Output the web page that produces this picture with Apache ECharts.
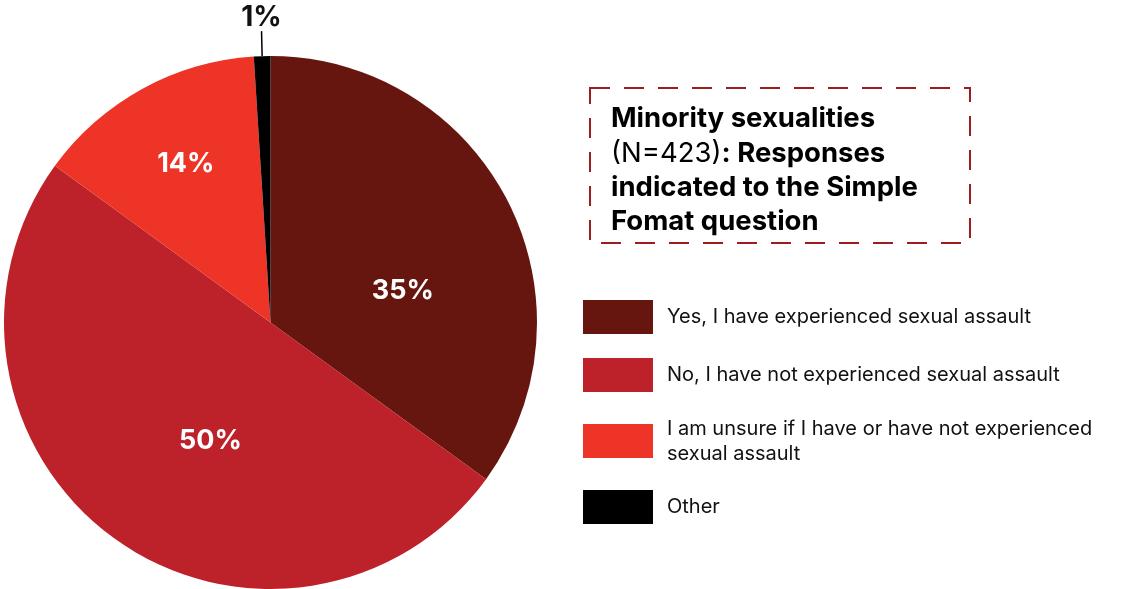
<!DOCTYPE html>
<html>
<head>
<meta charset="utf-8">
<script src="https://cdn.jsdelivr.net/npm/echarts@6/dist/echarts.min.js"></script>
<style>
html,body{margin:0;padding:0;background:#fff;}
#chart{width:1129px;height:589px;}
</style>
</head>
<body>
<div id="chart"></div>
<script>
var categories = [
  'Yes, I have experienced sexual assault',
  'No, I have not experienced sexual assault',
  'I am unsure if I have or have not experienced\nsexual assault',
  'Other'
];
var values = [35, 50, 14, 1];
var labels = ['35%', '50%', '14%', '1%'];
var colors = ['#66150f', '#bd2129', '#ee3327', '#000000'];
var labelOffsets = [[11, 30], [20, 8], [-19, -39], [0, 0]];

var FONT = 'Inter, Roboto, sans-serif';
var chart = echarts.init(document.getElementById('chart'), null, {renderer: 'canvas'});

var data = categories.map(function (c, i) {
  var d = {
    name: c,
    value: values[i],
    itemStyle: {color: colors[i]},
    label: {offset: labelOffsets[i]}
  };
  if (i === 3) {
    d.label = {
      position: 'outside',
      color: '#111',
      fontSize: 28,
      fontWeight: 'bold',
      fontFamily: FONT
    };
    d.labelLine = {show: true, length: 19, length2: 0, lineStyle: {color: '#000', width: 1.5}};
  }
  return d;
});

chart.setOption({
  animation: false,
  backgroundColor: '#ffffff',
  title: {
    left: 606,
    top: 97,
    text: '{b|Minority sexualities}\n{r|(N=423)}{b|: Responses}\n{b|indicated to the Simple}\n{b|Fomat question}',
    textStyle: {
      rich: {
        b: {fontFamily: FONT, fontSize: 27.5, fontWeight: 'bold', color: '#000', lineHeight: 34.3},
        r: {fontFamily: FONT, fontSize: 27.5, fontWeight: 'normal', color: '#000', lineHeight: 34.3}
      }
    }
  },
  graphic: [{
    type: 'rect',
    shape: {x: 590, y: 88, width: 380, height: 155},
    style: {fill: 'none', stroke: '#9b1d20', lineWidth: 2, lineDash: [20, 14]},
    silent: true
  }],
  legend: {
    orient: 'vertical',
    left: 578,
    top: 295,
    itemWidth: 70,
    itemHeight: 34,
    itemGap: 24,
    icon: 'rect',
    selectedMode: false,
    data: categories,
    textStyle: {
      fontFamily: FONT,
      fontSize: 20,
      color: '#111',
      lineHeight: 25,
      padding: [0, 0, 0, 9]
    }
  },
  series: [{
    type: 'pie',
    center: [270.5, 322.5],
    radius: 266.5,
    startAngle: 90,
    clockwise: true,
    avoidLabelOverlap: false,
    label: {
      show: true,
      position: 'inside',
      color: '#fff',
      fontFamily: FONT,
      fontSize: 27,
      fontWeight: 'bold',
      formatter: function (p) { return labels[p.dataIndex]; }
    },
    labelLine: {show: false},
    labelLayout: function (p) {
      if (p.dataIndex === 3 && p.labelLinePoints) {
        var pts = p.labelLinePoints;
        var top = pts[pts.length - 1];
        return {x: top[0], y: top[1] - 6, align: 'center', verticalAlign: 'bottom'};
      }
    },
    itemStyle: {borderWidth: 0},
    emphasis: {disabled: true},
    data: data
  }]
});
</script>
</body>
</html>
